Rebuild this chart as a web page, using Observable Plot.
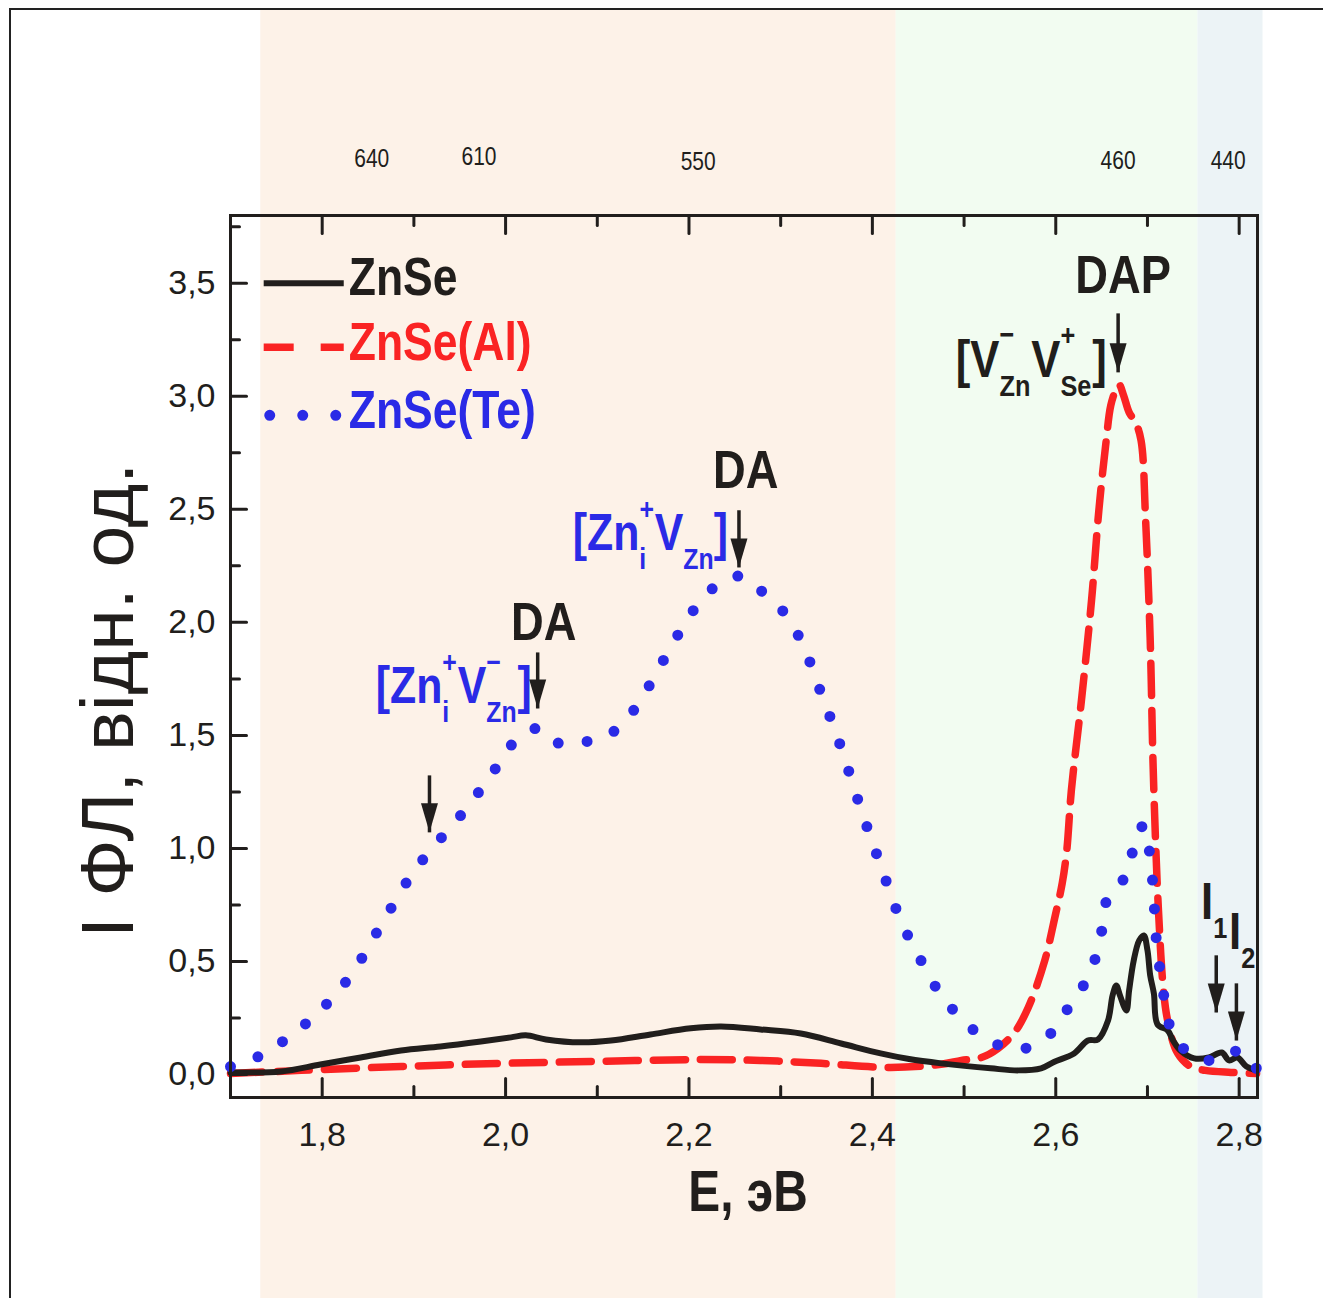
<!DOCTYPE html>
<html>
<head>
<meta charset="utf-8">
<script src="https://cdn.jsdelivr.net/npm/d3@7"></script>
<script src="https://cdn.jsdelivr.net/npm/@observablehq/plot@0.6"></script>
<style>
  html, body { margin: 0; padding: 0; background: #fff; overflow: hidden; }
  #figure { position: relative; width: 1323px; height: 1298px; }
  #figure svg { position: absolute; left: 0; top: 0; }
  #border { position: absolute; left: 9px; top: 8px; width: 1400px; height: 1400px;
            border-left: 2px solid #222; border-top: 2px solid #222; pointer-events: none; }
</style>
</head>
<body>
<div id="figure"><div id="border"></div></div>
<script>
// Photoluminescence spectra, E (eV) vs intensity (arb. units)
const znse = [
  [1.700,0.009],[1.755,0.013],[1.798,0.044],[1.842,0.075],[1.886,0.106],[1.929,0.124],
  [1.973,0.146],[2.006,0.164],[2.022,0.173],[2.044,0.155],[2.082,0.142],[2.115,0.150],
  [2.158,0.177],[2.202,0.204],[2.235,0.212],[2.278,0.199],[2.322,0.181],[2.366,0.137],
  [2.409,0.093],[2.440,0.068],[2.475,0.049],[2.529,0.027],[2.559,0.018],[2.584,0.027],
  [2.598,0.055],[2.620,0.093],[2.635,0.150],[2.646,0.155],[2.657,0.239],[2.662,0.350],
  [2.666,0.394],[2.670,0.350],[2.677,0.283],[2.680,0.372],[2.685,0.504],[2.691,0.593],
  [2.696,0.615],[2.700,0.549],[2.703,0.438],[2.707,0.358],[2.711,0.221],[2.722,0.195],
  [2.728,0.150],[2.736,0.106],[2.751,0.071],[2.767,0.075],[2.781,0.097],[2.789,0.062],
  [2.798,0.075],[2.808,0.035],[2.819,0.018]
];
const znseAl = [
  [1.700,0.004],[1.777,0.018],[1.886,0.035],[1.994,0.049],[2.104,0.058],[2.213,0.066],
  [2.278,0.062],[2.344,0.049],[2.420,0.031],[2.475,0.045],[2.497,0.062],[2.519,0.075],
  [2.537,0.115],[2.555,0.186],[2.570,0.296],[2.588,0.504],[2.599,0.695],[2.607,0.845],
  [2.612,0.991],[2.617,1.257],[2.628,1.655],[2.639,2.097],[2.647,2.496],[2.655,2.805],
  [2.660,2.960],[2.666,3.035],[2.669,3.053],[2.674,3.004],[2.680,2.929],[2.687,2.885],
  [2.693,2.805],[2.698,2.451],[2.703,1.920],[2.706,1.389],[2.709,1.013],[2.712,0.726],
  [2.717,0.394],[2.722,0.239],[2.733,0.093],[2.747,0.035],[2.763,0.018],[2.791,0.009],
  [2.819,0.004]
];
const znseTe = [
  [1.700,0.035],[1.733,0.084],[1.766,0.173],[1.798,0.283],[1.831,0.438],[1.864,0.659],
  [1.897,0.881],[1.918,0.991],[1.951,1.146],[1.984,1.323],[2.006,1.456],[2.027,1.522],
  [2.038,1.531],[2.055,1.469],[2.077,1.469],[2.104,1.487],[2.126,1.544],[2.147,1.655],
  [2.169,1.810],[2.191,1.965],[2.213,2.097],[2.235,2.177],[2.257,2.204],[2.278,2.142],
  [2.300,2.062],[2.322,1.920],[2.343,1.699],[2.365,1.456],[2.388,1.168],[2.409,0.925],
  [2.431,0.681],[2.453,0.504],[2.475,0.350],[2.497,0.248],[2.518,0.173],[2.546,0.119],
  [2.570,0.119],[2.598,0.195],[2.620,0.341],[2.636,0.429],[2.646,0.562],[2.652,0.673],
  [2.657,0.792],[2.668,0.836],[2.679,0.894],[2.684,0.991],[2.691,1.088],[2.698,1.097],
  [2.702,0.991],[2.706,0.836],[2.708,0.704],[2.710,0.580],[2.715,0.425],[2.722,0.252],
  [2.727,0.181],[2.736,0.128],[2.747,0.093],[2.761,0.062],[2.776,0.071],[2.786,0.093],
  [2.795,0.106],[2.802,0.053],[2.813,0.031],[2.820,0.027]
];

// spectral colour zones behind the plot (eV)
const bandFrom  = [1.733, 2.426, 2.755];
const bandTo    = [2.426, 2.755, 2.826];
const bandColor = ["#fdf2e8", "#f2fcf1", "#ecf3f6"];

// wavelength marks (nm) written over the zones, at their energy positions
const wlNm  = [640, 610, 550, 460, 440];
const wlE   = [1.854, 1.971, 2.210, 2.668, 2.788];
const wlLev = [4.013, 4.022, 4.000, 4.004, 4.004];

// axis ticks
const xMajor = [1.8, 2.0, 2.2, 2.4, 2.6, 2.8];
const xMinor = [1.9, 2.1, 2.3, 2.5, 2.7];
const yMajor = [0, 0.5, 1.0, 1.5, 2.0, 2.5, 3.0, 3.5];
const yMinor = [0.25, 0.75, 1.25, 1.75, 2.25, 2.75, 3.25, 3.75];

// legend rows
const legendNames  = ["ZnSe", "ZnSe(Al)", "ZnSe(Te)"];
const legendLineY  = [3.500, 3.217, 2.916];
const legendTextY  = [3.447, 3.159, 2.858];

// peak annotations: arrows (x, tail, tip) and labels
const arrowX    = [2.668, 2.2545, 2.035, 1.917, 2.775, 2.797];
const arrowTail = [3.367, 2.496, 1.867, 1.323, 0.527, 0.403];
const arrowTip  = [3.106, 2.243, 1.619, 1.071, 0.274, 0.150];

const headTexts = ["DAP", "DA", "DA"];
const headX     = [2.6735, 2.262, 2.0417];
const headY     = [3.456, 2.593, 1.920];

const defectTexts = ["[V^{−}_{Zn}V^{+}_{Se}]", "I_{1}", "I_{2}"];
const defectX     = [2.491, 2.7584, 2.789];
const defectY     = [3.084, 0.686, 0.553];

const blueTexts = ["[Zn^{+}_{i}V_{Zn}]", "[Zn^{+}_{i}V^{−}_{Zn}]"];
const blueX     = [2.0733, 1.8584];
const blueY     = [2.319, 1.642];

const DARK = "#211e1c", RED = "#fa2323", BLUE = "#2a2ae6";
const SANS = "'Liberation Sans', Arial, Helvetica, sans-serif";
// condensed face: drawn with the regular sans and squeezed horizontally afterwards
const NARROW = "'Liberation Sans Narrow', 'Liberation Sans', Arial, sans-serif";
const SQUEEZE = 0.84;
const fmt = d => d.toFixed(1).replace(".", ",");
const X = [1.70, 2.82], Y = [-0.102, 3.80];

const bands = bandFrom.map((f, i) => ({from: f, to: bandTo[i], color: bandColor[i]}));
const wl = wlNm.map((nm, i) => ({nm, x: wlE[i], y: wlLev[i]}));
const arrows = arrowX.map((x, i) => ({x, tail: arrowTail[i], tip: arrowTip[i]}));
const heads = headTexts.map((t, i) => ({t, x: headX[i], y: headY[i]}));
const defects = defectTexts.map((t, i) => ({t, x: defectX[i], y: defectY[i]}));
const blues = blueTexts.map((t, i) => ({t, x: blueX[i], y: blueY[i]}));
const legendColors = [DARK, RED, BLUE];
const legend = legendNames.map((name, i) => ({name, color: legendColors[i], ly: legendLineY[i], ty: legendTextY[i]}));
const legX1 = 1.7362, legX2 = 1.8235, legTextX = 1.8289;

// straight tick shape for vectors, and a slim filled arrow head
const tickShape = {draw(ctx, l) { ctx.moveTo(0, 0); ctx.lineTo(0, -l); }};
const arrowHead = {draw(ctx, size) {
  const s = Math.sqrt(size / Math.PI);
  ctx.moveTo(0, 0); ctx.lineTo(-0.85 * s, -2.9 * s); ctx.lineTo(0.85 * s, -2.9 * s); ctx.closePath();
}};

const tickOpts = {shape: tickShape, anchor: "start", stroke: DARK, strokeWidth: 3, fill: "none"};

const chart = Plot.plot({
  width: 1323, height: 1298,
  marginLeft: 230, marginRight: 66, marginTop: 215, marginBottom: 201,
  x: {domain: X},
  y: {domain: Y},
  color: {type: "identity"},
  style: {background: "transparent", fontFamily: SANS, overflow: "visible"},
  marks: [
    Plot.rect(bands, {x1: "from", x2: "to", y1: -1.0, y2: 4.71, fill: "color"}),
    Plot.text(wl, {x: "x", y: "y", text: d => String(d.nm), textAnchor: "middle", lineAnchor: "bottom",
                   fontSize: 25, fontFamily: NARROW, fill: DARK}),

    // spectra
    Plot.line(znseAl, {x: d => d[0], y: d => d[1], stroke: RED, strokeWidth: 7.5,
                       strokeDasharray: "32 15", curve: "catmull-rom"}),
    Plot.line(znse, {x: d => d[0], y: d => d[1], stroke: DARK, strokeWidth: 6, curve: "catmull-rom"}),
    Plot.line(znseTe, {x: d => d[0], y: d => d[1], stroke: BLUE, strokeWidth: 11,
                       strokeDasharray: "0 29", strokeLinecap: "round", curve: "catmull-rom"}),

    // frame and inward ticks
    Plot.frame({stroke: DARK, strokeWidth: 3}),
    Plot.vector(xMajor, {x: d => d, y: Y[0], length: 19, rotate: 0, ...tickOpts}),
    Plot.vector(xMinor, {x: d => d, y: Y[0], length: 11, rotate: 0, ...tickOpts}),
    Plot.vector(xMajor, {x: d => d, y: Y[1], length: 18, rotate: 180, ...tickOpts}),
    Plot.vector(xMinor, {x: d => d, y: Y[1], length: 10, rotate: 180, ...tickOpts}),
    Plot.vector(yMajor, {x: X[0], y: d => d, length: 16, rotate: 90, ...tickOpts}),
    Plot.vector(yMinor, {x: X[0], y: d => d, length: 9, rotate: 90, ...tickOpts}),

    Plot.axisX({ticks: xMajor, tickSize: 0, tickPadding: 24, tickFormat: fmt, fontSize: 34,
                fill: DARK, label: null}),
    Plot.axisY({ticks: yMajor, tickSize: 0, tickPadding: 15, tickFormat: fmt, fontSize: 34,
                fill: DARK, label: null}),
    Plot.text(["E, эВ"], {frameAnchor: "bottom", dx: 4, dy: 113, lineAnchor: "bottom", textAnchor: "middle",
                          fontSize: 57, fontWeight: "bold", fontFamily: NARROW, fill: DARK}),
    Plot.text(["I ФЛ, відн. од."], {frameAnchor: "left", dx: -98, dy: 44, rotate: -90, lineAnchor: "bottom",
                                    textAnchor: "middle", fontSize: 75, fill: DARK}),

    // legend
    Plot.link(legend.slice(0, 1), {x1: legX1, x2: legX2, y1: "ly", y2: "ly", stroke: DARK, strokeWidth: 6}),
    Plot.link(legend.slice(1, 2), {x1: legX1, x2: legX2, y1: "ly", y2: "ly", stroke: RED, strokeWidth: 7.5,
                                   strokeDasharray: "30 27"}),
    Plot.link(legend.slice(2, 3), {x1: 1.7428, x2: 1.8160, y1: "ly", y2: "ly", stroke: BLUE, strokeWidth: 11,
                                   strokeDasharray: "0 33", strokeLinecap: "round"}),
    Plot.text(legend, {x: legTextX, y: "ty", text: "name", fill: "color", textAnchor: "start",
                       lineAnchor: "bottom", fontSize: 53, fontWeight: "bold", fontFamily: NARROW}),

    // annotations
    Plot.link(arrows, {x1: "x", x2: "x", y1: "tail", y2: "tip", stroke: DARK, strokeWidth: 3.5}),
    Plot.dot(arrows, {x: "x", y: "tip", r: 10, symbol: arrowHead, fill: DARK, stroke: "none"}),
    Plot.text(heads, {x: "x", y: "y", text: "t", textAnchor: "middle", lineAnchor: "bottom",
                      fontSize: 54, fontWeight: "bold", fontFamily: NARROW, fill: DARK}),
    Plot.text(defects, {x: "x", y: "y", text: "t", textAnchor: "start", lineAnchor: "bottom",
                        fontSize: 52, fontWeight: "bold", fontFamily: NARROW, fill: DARK}),
    Plot.text(blues, {x: "x", y: "y", text: "t", textAnchor: "start", lineAnchor: "bottom",
                      fontSize: 51, fontWeight: "bold", fontFamily: NARROW, fill: BLUE})
  ]
});

const figure = document.getElementById("figure");
figure.insertBefore(chart, figure.firstChild);

// turn ^{..} / _{..} markup into raised and lowered tspans;
// a superscript and the subscript right after it are stacked in one column
d3.select(chart).selectAll("text").each(function () {
  const raw = this.textContent;
  if (!/[\^_]\{/.test(raw)) return;
  const fs = parseFloat(getComputedStyle(this).fontSize);
  const parts = raw.split(/(\^\{[^}]*\}|_\{[^}]*\})/).filter(s => s);
  this.textContent = "";
  let shift = 0, supWidth = 0, afterSup = false, carry = 0;
  for (const part of parts) {
    let kind = "base", str = part;
    if (part.startsWith("^{")) { kind = "sup"; str = part.slice(2, -1); }
    else if (part.startsWith("_{")) { kind = "sub"; str = part.slice(2, -1); }
    const target = kind === "sup" ? -0.62 * fs : kind === "sub" ? 0.36 * fs : 0;
    const t = d3.select(this).append("tspan").text(str).attr("dy", target - shift);
    if (kind !== "base") t.attr("font-size", 0.58 * fs);
    if (kind === "sub" && afterSup) t.attr("dx", -supWidth);
    else if (carry > 0) t.attr("dx", carry);
    carry = 0;
    shift = target;
    const w = t.node().getComputedTextLength();
    if (kind === "sub" && afterSup) carry = Math.max(0, supWidth - w) + 1;
    if (kind === "sup") { supWidth = w; afterSup = true; }
    else afterSup = false;
  }
});

// squeeze the condensed-face texts horizontally about their own anchor
d3.select(chart).selectAll("text").each(function () {
  if (!getComputedStyle(this).fontFamily.includes("Narrow")) return;
  let tr = this.getAttribute("transform");
  if (!tr || !/translate/.test(tr)) {
    const x = +this.getAttribute("x") || 0, y = +this.getAttribute("y") || 0;
    this.removeAttribute("x"); this.removeAttribute("y");
    tr = `translate(${x},${y})` + (tr ? " " + tr : "");
  }
  this.setAttribute("transform", `${tr} scale(${SQUEEZE},1)`);
});
</script>
</body>
</html>
